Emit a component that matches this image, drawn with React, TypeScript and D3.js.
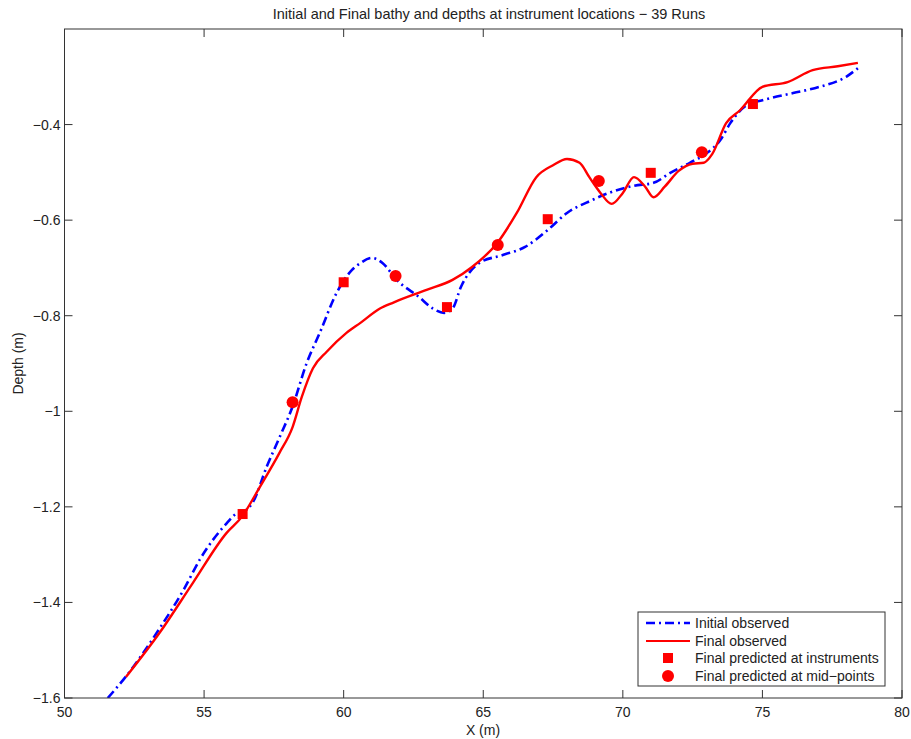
import React from "react";
import * as d3 from "d3";

const initialX = [51.55, 52.2, 53.4, 54.3, 54.85, 55.8, 56.2, 56.5, 56.75, 57.25, 57.7, 58.17, 58.67, 59.15, 59.75, 60.3, 60.6, 61.0, 61.4, 61.9, 62.7, 63.2, 63.6, 63.9, 64.2, 64.85, 65.7, 66.5, 67.3, 68.0, 68.9, 69.5, 70.4, 71.1, 71.7, 72.4, 73.0, 73.5, 73.85, 74.45, 75.0, 76.1, 77.05, 78.0, 78.42];
const initialY = [-1.6, -1.555, -1.455, -1.37, -1.31, -1.235, -1.212, -1.207, -1.19, -1.115, -1.055, -0.99, -0.9, -0.835, -0.752, -0.704, -0.69, -0.679, -0.69, -0.725, -0.761, -0.785, -0.794, -0.785, -0.74, -0.69, -0.673, -0.656, -0.621, -0.585, -0.558, -0.543, -0.528, -0.522, -0.501, -0.48, -0.46, -0.432, -0.397, -0.359, -0.349, -0.334, -0.321, -0.3, -0.282];

const finalX = [52.2, 53.4, 54.6, 55.8, 56.35, 57.0, 57.7, 58.17, 58.5, 58.9, 59.4, 60.1, 60.6, 61.3, 61.8, 62.97, 63.9, 64.6, 65.5, 66.2, 66.9, 67.5, 68.0, 68.45, 68.8, 69.2, 69.6, 70.0, 70.4, 70.8, 71.1, 71.5, 72.0, 72.5, 72.9, 73.2, 73.7, 74.2, 75.0, 75.9, 76.8, 77.7, 78.42];
const finalY = [-1.556, -1.464, -1.359, -1.255, -1.221, -1.158, -1.087, -1.033, -0.97, -0.91, -0.875, -0.836, -0.815, -0.785, -0.772, -0.746, -0.725, -0.698, -0.648, -0.585, -0.51, -0.485, -0.472, -0.48, -0.51, -0.543, -0.566, -0.543, -0.51, -0.53, -0.552, -0.53, -0.497, -0.482, -0.48, -0.462, -0.397, -0.37, -0.321, -0.311, -0.286, -0.278, -0.271];

const instrX = [56.38, 60.0, 63.7, 67.31, 71.0, 74.66];
const instrY = [-1.215, -0.73, -0.782, -0.598, -0.501, -0.357];

const midX = [58.17, 61.86, 65.52, 69.14, 72.83];
const midY = [-0.981, -0.717, -0.652, -0.518, -0.458];

const xTicks = [50, 55, 60, 65, 70, 75, 80];
const yTicks = [-1.6, -1.4, -1.2, -1, -0.8, -0.6, -0.4];

const titleText = "Initial and Final bathy and depths at instrument locations \u2212 39 Runs";
const xLabel = "X (m)";
const yLabel = "Depth (m)";
const legendLabels = ["Initial observed", "Final observed", "Final predicted at instruments", "Final predicted at mid\u2212points"];

const W = 911, H = 739;
const L = 64.5, R = 902, T = 29, B = 698;

export default function App() {
  const x = d3.scaleLinear().domain([50, 80]).range([L, R]);
  const y = d3.scaleLinear().domain([-1.6, -0.2]).range([B, T]);
  const line = d3.line<[number, number]>().x(d => x(d[0])).y(d => y(d[1])).curve(d3.curveMonotoneX);
  const iPts = initialX.map((v, i) => [v, initialY[i]] as [number, number]);
  const fPts = finalX.map((v, i) => [v, finalY[i]] as [number, number]);
  const font = "Liberation Sans, Arial, Helvetica, sans-serif";
  const fmt = (v: number) => (v < 0 ? "\u2212" : "") + String(Math.abs(v));
  const tl = 8;
  const fs = 14;
  const lx = 638, ly = 612, lw = 247, lh = 74;
  const rowY = [623, 641, 658, 676];
  return (
    <svg width={W} height={H} style={{ display: "block", position: "absolute", left: 0, top: 0 }} fontFamily={font}>
      <rect x={0} y={0} width={W} height={H} fill="#fff" />
      <text x={489} y={19} textAnchor="middle" fontSize={14.5} fill="#222">{titleText}</text>
      <defs>
        <clipPath id="clip"><rect x={L} y={T} width={R - L} height={B - T} /></clipPath>
      </defs>
      <g clipPath="url(#clip)">
        <path d={line(iPts) || ""} fill="none" stroke="#0000ff" strokeWidth={2.6} strokeDasharray="9,4,2,4" />
        <path d={line(fPts) || ""} fill="none" stroke="#ff0000" strokeWidth={2.4} />
      </g>
      {instrX.map((v, i) => (
        <rect key={"s" + i} x={x(v) - 5} y={y(instrY[i]) - 5} width={10} height={10} fill="#ff0000" />
      ))}
      {midX.map((v, i) => (
        <circle key={"c" + i} cx={x(v)} cy={y(midY[i])} r={6} fill="#ff0000" />
      ))}
      <rect x={L} y={T} width={R - L} height={B - T} fill="none" stroke="#333" strokeWidth={1} />
      {xTicks.map(t => (
        <g key={"xt" + t}>
          <line x1={x(t)} x2={x(t)} y1={B} y2={B - tl} stroke="#333" />
          <line x1={x(t)} x2={x(t)} y1={T} y2={T + tl} stroke="#333" />
          <text x={x(t)} y={B + 19} textAnchor="middle" fontSize={fs} fill="#222">{t}</text>
        </g>
      ))}
      {yTicks.map(t => (
        <g key={"yt" + t}>
          <line x1={L} x2={L + tl} y1={y(t)} y2={y(t)} stroke="#333" />
          <line x1={R} x2={R - tl} y1={y(t)} y2={y(t)} stroke="#333" />
          <text x={L - 4} y={y(t) + 5} textAnchor="end" fontSize={fs} fill="#222">{fmt(t)}</text>
        </g>
      ))}
      <text x={483} y={735} textAnchor="middle" fontSize={fs} fill="#222">{xLabel}</text>
      <text transform={`translate(23,${(T + B) / 2}) rotate(-90)`} textAnchor="middle" fontSize={fs} fill="#222">{yLabel}</text>
      <g>
        <rect x={lx} y={ly} width={lw} height={lh} fill="#fff" stroke="#333" strokeWidth={1} />
        <line x1={646} x2={690} y1={rowY[0]} y2={rowY[0]} stroke="#0000ff" strokeWidth={2.4} strokeDasharray="9,4,2,4" />
        <line x1={646} x2={690} y1={rowY[1]} y2={rowY[1]} stroke="#ff0000" strokeWidth={2.2} />
        <rect x={668 - 5} y={rowY[2] - 5} width={10} height={10} fill="#ff0000" />
        <circle cx={668} cy={rowY[3]} r={6} fill="#ff0000" />
        {legendLabels.map((s, i) => (
          <text key={s} x={695} y={rowY[i] + 5} fontSize={fs} fill="#222">{s}</text>
        ))}
      </g>
    </svg>
  );
}
